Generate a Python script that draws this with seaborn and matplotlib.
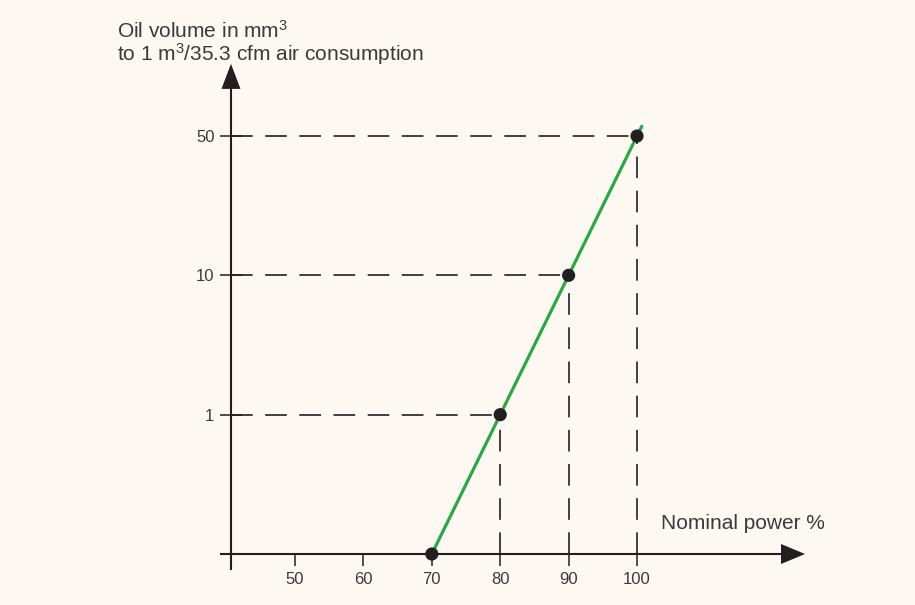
import matplotlib
matplotlib.use('Agg')
import matplotlib.pyplot as plt
import seaborn as sns

# readings from the schematic chart (y is an evenly spaced level scale)
nominal_power = [70, 80, 90, 100]
oil_level = [0, 1, 2, 3]
line_power = [70, 80, 90, 100, 100.7]
line_level = [0, 1, 2, 3, 3.07]
x_ticks = [50, 60, 70, 80, 90, 100]
y_levels = [1, 2, 3]
y_tick_labels = ['1', '10', '50']

BG = '#fdf9f2'
INK = '#231f20'
TEXT = '#3a3a3a'
GREEN = '#2aa845'

sns.set_style('white')
plt.rcParams['font.family'] = ['Liberation Sans', 'DejaVu Sans']
plt.rcParams['mathtext.fontset'] = 'custom'
plt.rcParams['mathtext.rm'] = 'Liberation Sans'
plt.rcParams['mathtext.default'] = 'regular'

fig = plt.figure(figsize=(9.15, 6.05), dpi=100, facecolor=BG)
ax = fig.add_axes([0, 0, 1, 1])
ax.set_facecolor(BG)

x0 = 40.64
ax.set_xlim(6.87, 140.64)
ax.set_ylim(-0.366, 3.976)

# dashed guide lines from each point to both axes
for p, lvl in zip(nominal_power, oil_level):
    if lvl > 0:
        ax.hlines(lvl, x0, p, color=INK, lw=1.2, linestyles=(0, (13, 7.5)), zorder=1)
        ax.vlines(p, 0, lvl, color=INK, lw=1.2, linestyles=(0, (13, 7.5)), zorder=1)

sns.lineplot(x=line_power, y=line_level, ax=ax, color=GREEN, lw=2.3, sort=False, zorder=3)
sns.scatterplot(x=nominal_power, y=oil_level, ax=ax, color=INK, s=90,
                edgecolor='none', zorder=4)

# axes as spines through the origin
for side in ['top', 'right']:
    ax.spines[side].set_visible(False)
ax.spines['left'].set_position(('data', x0))
ax.spines['bottom'].set_position(('data', 0))
ax.spines['left'].set_bounds(-0.108, 3.35)
ax.spines['bottom'].set_bounds(39.18, 121.5)
for side in ['left', 'bottom']:
    ax.spines[side].set_color(INK)
    ax.spines[side].set_linewidth(1.5)
    ax.spines[side].set_zorder(2)

ax.set_xticks(x_ticks)
ax.set_xticklabels([str(t) for t in x_ticks])
ax.set_yticks(y_levels)
ax.set_yticklabels(y_tick_labels)
ax.tick_params(axis='x', bottom=True, direction='out', length=8.6, width=1.1, color=INK,
               labelsize=12, labelcolor=TEXT, pad=4)
ax.tick_params(axis='y', left=True, direction='inout', length=15.8, width=1.1, color=INK,
               labelsize=12, labelcolor=TEXT, pad=4)
ax.set_xlabel('')
ax.set_ylabel('')

# arrow heads
ax.fill([x0 - 1.39, x0 + 1.39, x0], [3.338, 3.338, 3.518], color=INK, lw=0, zorder=2)
ax.fill([121.05, 121.05, 124.56], [-0.072, 0.072, 0], color=INK, lw=0, zorder=2)

fig.text(117 / 915, 1 - 38 / 605, 'Oil volume in mm$^{3}$', fontsize=15,
         color=TEXT, va='baseline', ha='left')
fig.text(117 / 915, 1 - 61 / 605, 'to 1 m$^{3}$/35.3 cfm air consumption', fontsize=15,
         color=TEXT, va='baseline', ha='left')
fig.text(661 / 915, 1 - 529 / 605, 'Nominal power %', fontsize=15,
         color=TEXT, va='baseline', ha='left')

plt.savefig('out.png', dpi=100, facecolor=BG)
